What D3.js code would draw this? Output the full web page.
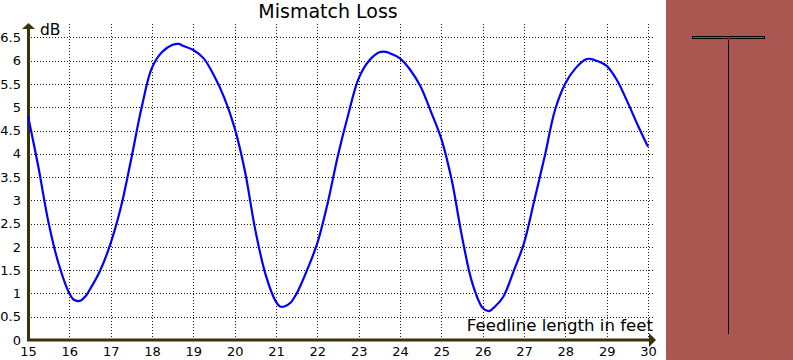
<!DOCTYPE html>
<html><head><meta charset="utf-8">
<script src="https://cdn.jsdelivr.net/npm/d3@7"></script>
<style>
html,body{margin:0;padding:0;background:#fff;overflow:hidden}
svg{display:block}
text{font-family:"DejaVu Sans",sans-serif;fill:#000}
</style></head><body>
<svg id="c" width="793" height="360"></svg>
<script>
const chartTitle = "Mismatch Loss";
const yTitle = "dB";
const xTitle = "Feedline length in feet";
const xTicks = [15,16,17,18,19,20,21,22,23,24,25,26,27,28,29,30];
const yTicks = [0,0.5,1,1.5,2,2.5,3,3.5,4,4.5,5,5.5,6,6.5];
const lengthFeet = [15,15.25,15.5,15.75,16,16.1,16.25,16.4,16.5,16.75,17,17.25,17.5,17.75,18,18.25,18.5,18.65,18.75,19,19.25,19.5,19.75,20,
 20.25,20.5,20.75,21,21.1,21.2,21.35,21.5,21.75,22,22.25,22.5,22.75,23,23.25,23.5,23.65,23.75,24,24.25,24.5,24.75,25,
 25.25,25.5,25.75,26,26.15,26.3,26.5,26.75,27,27.25,27.5,27.75,28,28.25,28.5,28.6,28.75,29,29.25,29.5,29.75,30];
const lossDb = [4.81,3.72,2.51,1.61,1.0,0.87,0.84,0.95,1.09,1.5,2.08,2.86,3.9,5.0,5.85,6.19,6.34,6.36,6.32,6.23,6.05,5.68,5.2,4.55,
 3.62,2.36,1.40,0.82,0.72,0.72,0.80,1.0,1.5,2.08,2.94,3.97,4.85,5.62,6.0,6.18,6.19,6.16,6.05,5.8,5.44,4.9,4.32,
 3.44,2.22,1.22,0.69,0.62,0.72,0.93,1.48,2.08,3.0,3.94,4.94,5.51,5.84,6.03,6.04,6.0,5.89,5.58,5.12,4.62,4.15];

const svg = d3.select("#c");
const axisColor = "#3a3208";
const x = d3.scaleLinear().domain([15,30]).range([28,648]);
const y = d3.scaleLinear().domain([0,6.5]).range([340,37.4]);

// right-hand panel
const panel = svg.append("g");
panel.append("rect").attr("x",666).attr("y",0).attr("width",127).attr("height",360).attr("fill","#aa5752");
panel.append("line").attr("x1",669).attr("x2",790).attr("y1",353.5).attr("y2",353.5)
  .attr("stroke","#a04a60").attr("stroke-width",1).attr("stroke-dasharray","1,3");
panel.append("rect").attr("x",692.5).attr("y",36.5).attr("width",72).attr("height",2)
  .attr("fill","#aa5752").attr("stroke","#000").attr("stroke-width",1).attr("shape-rendering","crispEdges");
panel.append("line").attr("x1",728.5).attr("x2",728.5).attr("y1",38).attr("y2",334)
  .attr("stroke","#000").attr("stroke-width",1).attr("shape-rendering","crispEdges");
panel.append("rect").attr("x",727).attr("y",37).attr("width",3).attr("height",3).attr("fill","#e00000");

// axes + dotted grid
const gx = svg.append("g").attr("transform","translate(0,340)")
  .call(d3.axisBottom(x).tickValues(xTicks).tickFormat(d3.format("d")).tickSizeInner(-317).tickSizeOuter(0).tickPadding(7));
const gy = svg.append("g").attr("transform","translate(28,0)")
  .call(d3.axisLeft(y).tickValues(yTicks).tickFormat(d=>d).tickSizeInner(-626).tickSizeOuter(0).tickPadding(7));
[gx,gy].forEach(g=>{
  g.select(".domain").remove();
  g.selectAll("line").attr("stroke","#1e1a00").attr("stroke-width",1)
    .attr("stroke-dasharray","1,2").attr("shape-rendering","crispEdges");
  g.selectAll("text").style("font-size","13px").style("font-family",'"DejaVu Sans",sans-serif').attr("fill","#000");
});
gx.selectAll(".tick").filter(d=>d===15).select("line").remove();
gy.selectAll(".tick").filter(d=>d===0).select("line").remove();

// main axis lines with arrows
svg.append("rect").attr("x",27).attr("y",28).attr("width",3).attr("height",313).attr("fill",axisColor);
svg.append("rect").attr("x",27).attr("y",338.5).attr("width",623).attr("height",3).attr("fill",axisColor);
svg.append("path").attr("d",d3.line()([[22,29],[28.5,23],[35,29]])).attr("fill",axisColor);
svg.append("path").attr("d",d3.line()([[649,333],[656,340],[649,347]])).attr("fill",axisColor);

// curve
const pts = d3.zip(lengthFeet, lossDb);
svg.append("path").datum(pts)
  .attr("d", d3.line().x(d=>x(d[0])).y(d=>y(d[1])).curve(d3.curveCatmullRom.alpha(0.5)))
  .attr("fill","none").attr("stroke","#0000ff").attr("stroke-width",2.2);

// titles
svg.append("text").attr("x",328).attr("y",18).attr("text-anchor","middle").style("font-size","19px").text(chartTitle);
svg.append("text").attr("x",40).attr("y",35).style("font-size","15.5px").text(yTitle);
svg.append("text").attr("x",653).attr("y",331).attr("text-anchor","end").style("font-size","16.6px").text(xTitle);
</script>
</body></html>
